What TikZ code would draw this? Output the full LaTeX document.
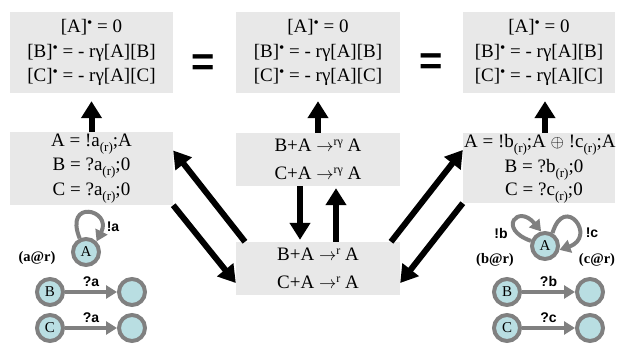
\documentclass[tikz,border=0pt]{standalone}
\usepackage{fontspec}
\setmainfont{Liberation Serif}
\setsansfont{Liberation Sans}
\usetikzlibrary{arrows.meta}
\definecolor{boxgray}{HTML}{E8E8E8}
\definecolor{cfill}{HTML}{B9DEE2}
\definecolor{cline}{HTML}{808080}
\newcommand\rsub{\raisebox{-0.55ex}{\fontsize{13}{13}\selectfont(r)}}
\newcommand\dotsup{\raisebox{0.55ex}{\fontsize{15}{15}\selectfont •}}
\newcommand\rgsup{\raisebox{0.75ex}{\fontsize{12}{12}\selectfont rγ}}
\newcommand\rsup{\raisebox{0.75ex}{\fontsize{12}{12}\selectfont r}}
\newcommand\rarr{$\rightarrow$}
\begin{document}
\begin{tikzpicture}[x=1pt,y=1pt,
  box/.style={fill=boxgray, inner sep=0pt, align=center, font=\fontsize{19}{24.5}\selectfont},
  plain/.style={inner sep=0pt, font=\fontsize{19}{24.5}\selectfont},
  barrow/.style={line width=6pt, -{Triangle[width=20pt,length=17pt]}},
  st/.style={circle, draw=cline, fill=cfill, line width=4pt, minimum size=26pt, inner sep=0pt, font=\fontsize{15}{15}\selectfont},
  garrow/.style={draw=cline, line width=4pt, -{Triangle[width=13pt,length=11pt]}},
  lab/.style={font=\sffamily\bfseries\fontsize{14}{14}\selectfont, inner sep=1pt},
  loc/.style={font=\bfseries\fontsize{14.5}{14.5}\selectfont, inner sep=1pt},
  eq/.style={font=\sffamily\bfseries\fontsize{40}{40}\selectfont, inner sep=0pt}
]
\useasboundingbox (0,0) rectangle (621,-344);

% top boxes
\node[box, minimum width=163pt, minimum height=81pt] (TL) at (91.5,-52.5)
  {[A]\dotsup{} = 0\\{}[B]\dotsup{} = - rγ[A][B]\\{}[C]\dotsup{} = - rγ[A][C]};
\node[box, minimum width=164pt, minimum height=81pt] (TM) at (318,-52.5)
  {[A]\dotsup{} = 0\\{}[B]\dotsup{} = - rγ[A][B]\\{}[C]\dotsup{} = - rγ[A][C]};
\node[box, minimum width=152pt, minimum height=81pt] (TR) at (539,-52.5)
  {[A]\dotsup{} = 0\\{}[B]\dotsup{} = - rγ[A][B]\\{}[C]\dotsup{} = - rγ[A][C]};

\node[eq] (eq1) at (203,-65) {=};
\node[eq] (eq2) at (431,-64) {=};

% middle row
\node[box, minimum width=163pt, minimum height=73pt] (L) at (91.5,-168.5)
  {A = !a\rsub;A\\B = ?a\rsub;0\\C = ?a\rsub;0};
\node[box, minimum width=164pt, minimum height=53pt] (M1) at (318,-159.5)
  {B+A \rarr\rgsup{} A\\[3.5pt]C+A \rarr\rgsup{} A};
\node[box, minimum width=164pt, minimum height=53pt] (M2) at (318,-268.5)
  {B+A \rarr\rsup{} A\\[3.5pt]C+A \rarr\rsup{} A};
\node[fill=boxgray, inner sep=0pt, minimum width=152pt, minimum height=70pt] (R) at (539,-168) {};
\node[plain, anchor=west] (R1) at (464,-145) {A = !b\rsub;A $\oplus$ !c\rsub;A};
\node[plain] (R2) at (544,-170) {B = ?b\rsub;0};
\node[plain] (R3) at (544,-193) {C = ?c\rsub;0};

% black arrows
\draw[barrow] (L.north) -- ([yshift=-8pt]TL.south);
\draw[barrow] (M1.north) -- ([yshift=-8pt]TM.south);
\draw[barrow] ([xshift=6pt]R.north) -- ([xshift=6pt,yshift=-8pt]TR.south);
\draw[barrow] ([xshift=-18pt]M1.south) -- ([xshift=-18pt,yshift=2pt]M2.north);
\draw[barrow] ([xshift=18pt]M2.north) -- ([xshift=18pt,yshift=-2pt]M1.south);
\draw[barrow] ([xshift=-73pt]M2.north) -- ([yshift=18pt]L.east);
\draw[barrow] (L.south east) -- ([yshift=-14.5pt]M2.west);
\draw[barrow] ([xshift=73pt]M2.north) -- ([yshift=18pt]R.west);
\draw[barrow] (R.south west) -- ([yshift=-14.5pt]M2.east);

% bottom-left graph
\node[st] (A1) at (86,-252) {A};
\node[st] (B1) at (50,-292) {B};
\node[st] (B1t) at (132,-292) {};
\node[st] (C1) at (50,-328) {C};
\node[st] (C1t) at (132,-328) {};
\draw[garrow] (A1.115) .. controls +(-16,40) and +(16,32) .. (A1.45);
\draw[garrow] (B1) -- node[lab, above=2pt] (qa1) {?a} (B1t);
\draw[garrow] (C1) -- node[lab, above=2pt] (qa2) {?a} (C1t);
\node[lab] (la) at (113,-227) {!a};
\node[loc] (ar) at (37,-258) {(a@r)};

% bottom-right graph
\node[st] (A2) at (545,-246) {A};
\node[st] (B2) at (507,-292) {B};
\node[st] (B2t) at (590,-292) {};
\node[st] (C2) at (507,-328) {C};
\node[st] (C2t) at (590,-328) {};
\draw[garrow] (A2.160) .. controls +(-34,12) and +(-23,28) .. (A2.105);
\draw[garrow] (A2.60) .. controls +(12,40) and +(38,13) .. (A2.-15);
\draw[garrow] (B2) -- node[lab, above=2pt] (qb) {?b} (B2t);
\draw[garrow] (C2) -- node[lab, above=2pt] (qc) {?c} (C2t);
\node[lab] (lb) at (501,-233) {!b};
\node[lab] (lc) at (592,-233) {!c};
\node[loc] (br) at (495,-260) {(b@r)};
\node[loc] (cr) at (597,-260) {(c@r)};
\end{tikzpicture}
\end{document}
